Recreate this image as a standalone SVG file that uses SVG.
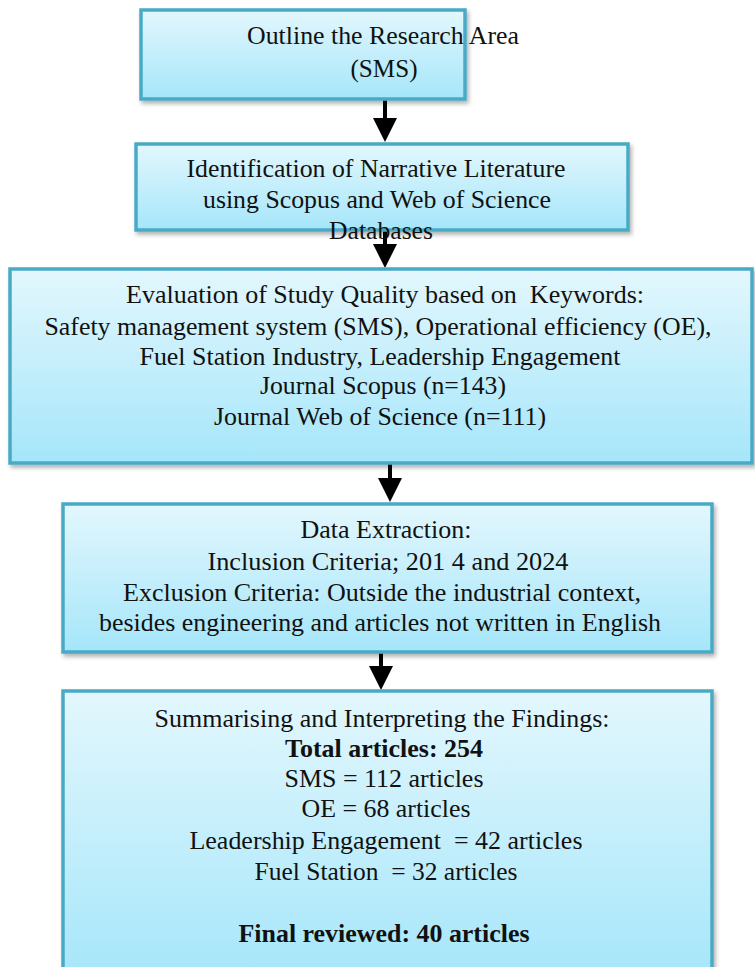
<svg xmlns="http://www.w3.org/2000/svg" width="755" height="967" viewBox="0 0 755 967">
<defs>
<linearGradient id="g" x1="0" y1="0" x2="0" y2="1">
<stop offset="0" stop-color="#e3f7fd"/>
<stop offset="1" stop-color="#a5e6fa"/>
</linearGradient>
<filter id="sh" x="-5%" y="-5%" width="110%" height="115%">
<feDropShadow dx="2" dy="3" stdDeviation="2" flood-color="#000" flood-opacity="0.3"/>
</filter>
<marker id="ah" markerWidth="6" markerHeight="6" refX="5" refY="3" orient="auto" markerUnits="strokeWidth">
<path d="M0,0 L6,3 L0,6 Z" fill="#000"/>
</marker>
</defs>
<style>
.box{fill:url(#g);stroke:#4aaac5;stroke-width:3.5;filter:url(#sh)}
text{font-family:"Liberation Serif","Times New Roman",serif;font-size:26px;fill:#111;text-anchor:middle}
.b{font-weight:bold}
.p{white-space:pre}
.c{stroke:#000;stroke-width:4;fill:none;marker-end:url(#ah)}
</style>
<rect width="755" height="967" fill="#fff"/>
<g id="connectors">
<line class="c" x1="385" y1="100" x2="385" y2="138"/>
<line class="c" x1="385" y1="230" x2="385" y2="264"/>
<line class="c" x1="390" y1="463" x2="390" y2="498"/>
<line class="c" x1="381" y1="652" x2="381" y2="686"/>
</g>
<g id="n1">
<rect class="box" x="141" y="10" width="324" height="89"/>
<text x="383" y="44" textLength="272" lengthAdjust="spacingAndGlyphs">Outline the Research Area</text>
<text x="384" y="77" textLength="67" lengthAdjust="spacingAndGlyphs">(SMS)</text>
</g>
<g id="n2">
<rect class="box" x="136" y="144" width="492" height="86"/>
<text x="376" y="177" textLength="379" lengthAdjust="spacingAndGlyphs">Identification of Narrative Literature</text>
<text x="377" y="208" textLength="348" lengthAdjust="spacingAndGlyphs">using Scopus and Web of Science</text>
<text x="381" y="239" textLength="104" lengthAdjust="spacingAndGlyphs">Databases</text>
</g>
<g id="n3">
<rect class="box" x="10" y="269" width="742" height="194"/>
<text class="p" xml:space="preserve" x="385" y="303" textLength="518" lengthAdjust="spacingAndGlyphs">Evaluation of Study Quality based on  Keywords:</text>
<text x="378" y="335" textLength="667" lengthAdjust="spacingAndGlyphs">Safety management system (SMS), Operational efficiency (OE),</text>
<text x="380" y="365" textLength="481" lengthAdjust="spacingAndGlyphs">Fuel Station Industry, Leadership Engagement</text>
<text x="383" y="394" textLength="246" lengthAdjust="spacingAndGlyphs">Journal Scopus (n=143)</text>
<text x="380" y="425" textLength="332" lengthAdjust="spacingAndGlyphs">Journal Web of Science (n=111)</text>
</g>
<g id="n4">
<rect class="box" x="63" y="504" width="649" height="148"/>
<text x="386" y="538" textLength="171" lengthAdjust="spacingAndGlyphs">Data Extraction:</text>
<text x="388" y="570" textLength="361" lengthAdjust="spacingAndGlyphs">Inclusion Criteria; 201 4 and 2024</text>
<text x="382" y="601" textLength="518" lengthAdjust="spacingAndGlyphs">Exclusion Criteria: Outside the industrial context,</text>
<text x="380" y="631" textLength="562" lengthAdjust="spacingAndGlyphs">besides engineering and articles not written in English</text>
</g>
<g id="n5">
<rect class="box" x="63" y="691" width="649" height="290"/>
<text x="382" y="727" textLength="455" lengthAdjust="spacingAndGlyphs">Summarising and Interpreting the Findings:</text>
<text x="384" y="757" class="b" textLength="198" lengthAdjust="spacingAndGlyphs">Total articles: 254</text>
<text x="384" y="787" textLength="199" lengthAdjust="spacingAndGlyphs">SMS = 112 articles</text>
<text x="386" y="817" textLength="169" lengthAdjust="spacingAndGlyphs">OE = 68 articles</text>
<text class="p" xml:space="preserve" x="386" y="849" textLength="393" lengthAdjust="spacingAndGlyphs">Leadership Engagement  = 42 articles</text>
<text class="p" xml:space="preserve" x="386" y="880" textLength="263" lengthAdjust="spacingAndGlyphs">Fuel Station  = 32 articles</text>
<text x="384" y="942" class="b" textLength="291" lengthAdjust="spacingAndGlyphs">Final reviewed: 40 articles</text>
</g>
</svg>
